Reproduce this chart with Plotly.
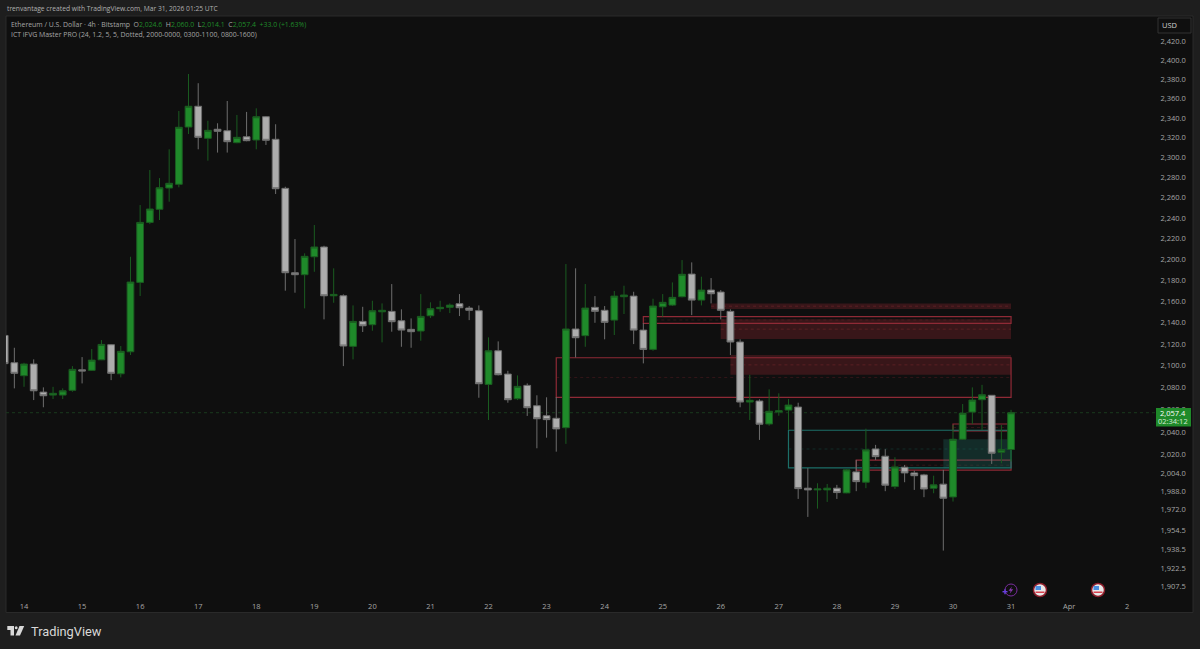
import pandas as pd
import plotly.graph_objects as go

# 4h candles, ETH/USD Bitstamp
times = pd.date_range("2026-03-13 16:00", periods=105, freq="4h")

opens = [
    2128, 2102.8, 2090.9, 2101.6, 2076, 2073.3, 2073.3, 2077.6, 2096.3, 2095.8,
    2105.5, 2119.4, 2092.7, 2112.9, 2177.9, 2235.7, 2248.5, 2269.5, 2273.2, 2330.8,
    2352, 2319.3, 2328.5, 2327, 2314.9, 2320.9, 2317.6, 2341.3, 2318.3, 2269.2,
    2187.1, 2185.2, 2202.4, 2211.8, 2165.2, 2165.2, 2117.9, 2141.1, 2138, 2150.1,
    2150.5, 2141.7, 2133.7, 2132.1, 2146.4, 2153, 2154.3, 2157.7, 2153.6, 2151.1,
    2083, 2113.8, 2092.4, 2070, 2082.1, 2063.7, 2054.7, 2052.4, 2044, 2134,
    2127.8, 2154.3, 2151.5, 2142.3, 2164.3, 2164.9, 2133, 2115.1, 2154.8, 2156.4,
    2164.3, 2185.8, 2161.1, 2170.6, 2168.7, 2150.5, 2121.9, 2067, 2067.9, 2047.3,
    2058, 2059.8, 2062.5, 1990.7, 1989.2, 1989.2, 1990.7, 1986.6, 2004.9, 1995.9,
    2025.1, 2018.7, 1992.1, 2009, 2004, 2002.3, 1990.7, 1994.2, 1983.1, 2033.7,
    2058, 2069.1, 2073.1, 2022.2, 2024.6,
]
highs = [
    2129, 2116.6, 2102.8, 2105.9, 2080.3, 2080.8, 2079.4, 2099.7, 2108, 2115.4,
    2123.7, 2120, 2118.2, 2202.4, 2252.7, 2287.4, 2279.4, 2308.2, 2347.2, 2385.4,
    2375.8, 2337.2, 2334.6, 2357.4, 2343.1, 2346.2, 2349.9, 2342, 2333.6, 2270.8,
    2219.5, 2205.7, 2233.1, 2213, 2191.3, 2166.5, 2156.1, 2154.8, 2160.5, 2158,
    2176.3, 2152.4, 2143.9, 2166.8, 2159, 2160.5, 2158, 2166.8, 2155.5, 2156.1,
    2126.2, 2122.5, 2095.4, 2091.2, 2083.9, 2073.1, 2071.3, 2071.5, 2195.4, 2191.3,
    2176.3, 2164.9, 2155.5, 2169.7, 2174.7, 2169, 2139.5, 2162.4, 2166.8, 2177.9,
    2199.2, 2197, 2183.3, 2182, 2170.6, 2152.4, 2124.4, 2091.8, 2069.5, 2078.5,
    2074.9, 2069.7, 2066.4, 2008.2, 1995, 1994.4, 1993.6, 2007.3, 2015.4, 2043.1,
    2028.7, 2024.9, 2017.8, 2011, 2006, 2003.2, 2001.6, 2006.7, 2046.4, 2065.2,
    2080.3, 2082.6, 2073.3, 2046.4, 2060,
]
lows = [
    2102, 2079.4, 2080.8, 2068.8, 2062.3, 2069.7, 2069.7, 2076.3, 2083.9, 2095.2,
    2105.2, 2086.9, 2089.4, 2109.9, 2165, 2234, 2238, 2256, 2270.2, 2323.7,
    2308.2, 2296.8, 2304.9, 2304.9, 2314.3, 2316.3, 2308.2, 2312.6, 2263.6, 2170,
    2168.1, 2153.3, 2188, 2143, 2158.6, 2099.7, 2105.9, 2131.2, 2132.4, 2121.6,
    2131.5, 2117.5, 2116.6, 2123.1, 2144.2, 2150.1, 2148.9, 2146.1, 2142.3, 2070.9,
    2050.9, 2091.2, 2066.4, 2068.8, 2054.5, 2025.7, 2035.1, 2022.7, 2029.6, 2107.7,
    2117.5, 2139.8, 2124.4, 2128.4, 2148, 2120, 2102.2, 2113.8, 2145.5, 2155.5,
    2163.7, 2147, 2156.1, 2158, 2143, 2109.9, 2062.3, 2050.9, 2033.1, 2045.8,
    2054.7, 2042, 1981.4, 1965.9, 1973, 1978.8, 1981.4, 1986.3, 1988.1, 1990.7,
    2015.4, 1988.1, 1990.1, 1995.9, 1989.2, 1982.9, 1986.3, 1937.2, 1979.1, 2033,
    2047.3, 2042, 2011.9, 2012.5, 2014.1,
]
closes = [
    2102, 2093.1, 2101.6, 2077.2, 2072.7, 2074.9, 2077.2, 2096.7, 2095.2, 2105.2,
    2119.7, 2093.1, 2113.3, 2178.2, 2235.7, 2248.8, 2269.8, 2274.2, 2330.5, 2352,
    2320.3, 2327.4, 2326.4, 2315.9, 2320.3, 2316.9, 2341.3, 2317.3, 2268.8, 2187.1,
    2185.2, 2202.8, 2211.8, 2165.2, 2166.5, 2118.2, 2141.1, 2137, 2151.1, 2151.5,
    2140.8, 2133, 2131.5, 2145.8, 2153, 2154.3, 2156.4, 2153.9, 2151.5, 2083.6,
    2113.8, 2091.8, 2069.1, 2081.2, 2061.9, 2052, 2051.2, 2042.9, 2134, 2125.9,
    2153.6, 2150.5, 2140.2, 2164.9, 2165.9, 2133, 2115.1, 2155.5, 2159, 2163.7,
    2185.6, 2161.1, 2170.6, 2167.1, 2151.5, 2121.9, 2067, 2068.6, 2047.1, 2058.7,
    2059.2, 2064.3, 1990.3, 1989.2, 1990, 1990.7, 1986.9, 2006.7, 1996.4, 2024.3,
    2018.3, 1993.3, 2009.3, 2004, 2001.6, 1990, 1993.6, 1982, 2033.7, 2056.9,
    2068.8, 2073.6, 2021.3, 2024.5, 2057.4,
]

tick_dates = [
    "2026-03-14", "2026-03-15", "2026-03-16", "2026-03-17", "2026-03-18", "2026-03-19",
    "2026-03-20", "2026-03-21", "2026-03-22", "2026-03-23", "2026-03-24", "2026-03-25",
    "2026-03-26", "2026-03-27", "2026-03-28", "2026-03-29", "2026-03-30", "2026-03-31",
    "2026-04-01", "2026-04-02",
]
tick_days = ["14", "15", "16", "17", "18", "19", "20", "21", "22", "23", "24", "25",
             "26", "27", "28", "29", "30", "31", "Apr", "2"]
price_ticks = [2420, 2400, 2380, 2360, 2340, 2320, 2300, 2280, 2260, 2240, 2220, 2200,
               2180, 2160, 2140, 2120, 2100, 2080, 2060, 2040, 2020, 2004, 1988, 1972,
               1954.5, 1938.5, 1922.5, 1907.5]

# imbalance zones from the indicator
zone_end = "2026-03-31 00:00"
red_fill_starts = ["2026-03-25 20:00", "2026-03-26 00:00", "2026-03-26 04:00"]
red_fill_tops = [2158, 2143, 2109.9]
red_fill_bottoms = [2152.7, 2124.7, 2091.8]

red_box_starts = ["2026-03-24 16:00", "2026-03-23 04:00", "2026-03-28 08:00", "2026-03-30 00:00"]
red_box_tops = [2145.5, 2107.4, 2015.2, 2047.3]
red_box_bottoms = [2139.3, 2071.3, 2006.4, 2041.1]

teal_box_start = "2026-03-27 04:00"
teal_box_top = 2041.7
teal_box_bottom = 2008.4
teal_fill_start = "2026-03-29 20:00"
teal_fill_top = 2033.7
teal_fill_bottom = 2008.2

last_price = 2057.4

# plot area in page pixels
W, H = 1200, 649
L, R, T, B = 6, 1155, 16, 596


def xp(px):
    return (px - L) / (R - L)


def yp(py):
    return (B - py) / (B - T)


def paper_shape(kind, x0, y0, x1, y1, **kw):
    return dict(type=kind, xref="paper", yref="paper", x0=xp(x0), x1=xp(x1), y0=yp(y0), y1=yp(y1), **kw)


def paper_path(points, **kw):
    p = "M" + " L".join(f"{xp(a):.5f},{yp(b):.5f}" for a, b in points) + " Z"
    return dict(type="path", xref="paper", yref="paper", path=p, **kw)


def label(text, x, y, size=6.9, color="#a6a6a6", anchor="left", family="Open Sans", **kw):
    return dict(text=text, xref="paper", yref="paper", x=xp(x), y=yp(y), xanchor=anchor, yanchor="middle",
                showarrow=False, font=dict(family=family, size=size, color=color), **kw)


fig = go.Figure(
    go.Candlestick(
        x=times,
        open=opens,
        high=highs,
        low=lows,
        close=closes,
        increasing=dict(line=dict(color="#1a5c20", width=1), fillcolor="#1f8a2a"),
        decreasing=dict(line=dict(color="#6e6e6e", width=1), fillcolor="#adadad"),
        whiskerwidth=0,
    )
)

shapes = [
    paper_shape("rect", 6, 16, 1193, 612.5, fillcolor="#0f0f0f", line=dict(color="#2a2a2a", width=1), layer="below"),
    # current price line
    dict(type="line", xref="paper", x0=0, x1=1, yref="y", y0=last_price, y1=last_price,
         line=dict(color="#1a3a1e", width=1, dash="dot"), layer="below"),
]

for s, top, bot in zip(red_fill_starts, red_fill_tops, red_fill_bottoms):
    shapes.append(dict(type="rect", x0=s, x1=zone_end, y0=bot, y1=top, xref="x", yref="y",
                       fillcolor="rgba(190,45,60,0.24)", line=dict(width=0), layer="below"))
    mid = (top + bot) / 2
    shapes.append(dict(type="line", x0=s, x1=zone_end, y0=mid, y1=mid, xref="x", yref="y",
                       line=dict(color="rgba(190,60,70,0.25)", width=1, dash="dot"), layer="below"))

for s, top, bot in zip(red_box_starts, red_box_tops, red_box_bottoms):
    shapes.append(dict(type="rect", x0=s, x1=zone_end, y0=bot, y1=top, xref="x", yref="y",
                       fillcolor="rgba(0,0,0,0)", line=dict(color="#8f2a36", width=1.2), layer="below"))
    mid = (top + bot) / 2
    shapes.append(dict(type="line", x0=s, x1=zone_end, y0=mid, y1=mid, xref="x", yref="y",
                       line=dict(color="rgba(138,39,51,0.3)", width=1, dash="dot"), layer="below"))

shapes.append(dict(type="rect", x0=teal_fill_start, x1=zone_end, y0=teal_fill_bottom, y1=teal_fill_top,
                   xref="x", yref="y", fillcolor="rgba(30,130,120,0.25)", line=dict(width=0), layer="below"))
shapes.append(dict(type="rect", x0=teal_box_start, x1=zone_end, y0=teal_box_bottom, y1=teal_box_top,
                   xref="x", yref="y", fillcolor="rgba(0,0,0,0)", line=dict(color="#1c6f68", width=1.2), layer="below"))
teal_mid = (teal_box_top + teal_box_bottom) / 2
shapes.append(dict(type="line", x0=teal_box_start, x1=zone_end, y0=teal_mid, y1=teal_mid, xref="x", yref="y",
                   line=dict(color="rgba(28,111,104,0.3)", width=1, dash="dot"), layer="below"))

# last price tag and USD button
shapes.append(paper_shape("rect", 1156, 408, 1191, 426.5, fillcolor="#1f8a2a", line=dict(width=0)))
shapes.append(paper_shape("rect", 1158, 18, 1191, 33, fillcolor="#0f0f0f", line=dict(color="#333333", width=1)))

# TradingView logo
logo = "#d8d8d8"
shapes.append(paper_path([(7.3, 626), (14, 626), (14, 635.5), (10.5, 635.5), (10.5, 630), (7.3, 630)],
                         fillcolor=logo, line=dict(width=0)))
shapes.append(paper_shape("circle", 14.8, 626.2, 17.6, 629.2, fillcolor=logo, line=dict(width=0)))
shapes.append(paper_path([(19.5, 626), (24.2, 626), (20, 635.5), (15.5, 635.5)], fillcolor=logo, line=dict(width=0)))

# event markers at the bottom
shapes.append(paper_shape("circle", 1005, 584, 1017, 596, fillcolor="#0f0f0f", line=dict(color="#7a2e9e", width=1)))
shapes.append(paper_path([(1012, 586.5), (1008.5, 590.8), (1010.7, 590.8), (1009.7, 593.8), (1013.2, 589.2), (1011, 589.2)],
                         fillcolor="#8a3ab0", line=dict(width=0)))
shapes.append(paper_shape("rect", 1002.5, 591, 1007.5, 592.4, fillcolor="#6a3fe0", line=dict(width=0)))
shapes.append(paper_shape("rect", 1004.3, 589.2, 1005.7, 594.2, fillcolor="#6a3fe0", line=dict(width=0)))
for cx in (1040, 1098):
    shapes.append(paper_shape("circle", cx - 6.5, 583.5, cx + 6.5, 596.5, fillcolor="#e8e8e8", line=dict(color="#8c1d2a", width=1.5)))
    shapes.append(paper_shape("rect", cx - 4.5, 586, cx + 1, 590, fillcolor="#4a8fe0", line=dict(width=0)))
    shapes.append(paper_shape("rect", cx - 4.5, 591.5, cx + 4.5, 593, fillcolor="#d9414f", line=dict(width=0)))

green = "#1f8a2a"
legend_line = (
    "Ethereum / U.S. Dollar · 4h · Bitstamp&nbsp;&nbsp;"
    f"O<span style='color:{green}'>2,024.6</span>&nbsp;&nbsp;"
    f"H<span style='color:{green}'>2,060.0</span>&nbsp;&nbsp;"
    f"L<span style='color:{green}'>2,014.1</span>&nbsp;&nbsp;"
    f"C<span style='color:{green}'>2,057.4</span>&nbsp;&nbsp;"
    f"<span style='color:{green}'>+33.0 (+1.63%)</span>"
)

annotations = [
    label("trenvantage created with TradingView.com, Mar 31, 2026 01:25 UTC", 5, 8.5, size=6.7, color="#b0b0b0"),
    label(legend_line, 9, 24.5),
    label("ICT iFVG Master PRO (24, 1.2, 5, 5, Dotted, 2000-0000, 0300-1100, 0800-1600)", 9, 34.5),
    label("USD", 1169, 25.5, size=7.5, color="#d0d0d0", anchor="center"),
    label("2,057.4", 1173, 412.5, size=7.5, color="#ffffff", anchor="center"),
    label("02:34:12", 1173, 421, size=7.5, color="#d8ecd8", anchor="center"),
    label("TradingView", 28.5, 631, size=12.8, color="#d8d8d8", family="Roboto"),
]

fig.update_layout(
    width=W,
    height=H,
    margin=dict(l=L, r=W - R, t=T, b=H - B, pad=0),
    paper_bgcolor="#1e1e1e",
    plot_bgcolor="rgba(0,0,0,0)",
    showlegend=False,
    boxgap=0,
    shapes=shapes,
    annotations=annotations,
    font=dict(family="Open Sans", size=7.5, color="#a6a6a6"),
    xaxis=dict(
        type="date",
        range=["2026-03-13 16:33", "2026-04-02 11:30"],
        tickmode="array",
        tickvals=tick_dates,
        ticktext=tick_days,
        showgrid=False,
        zeroline=False,
        showline=False,
        ticks="outside",
        ticklen=3,
        tickcolor="rgba(0,0,0,0)",
        rangeslider=dict(visible=False),
    ),
    yaxis=dict(
        type="log",
        side="right",
        range=[3.27856, 3.388556],
        tickmode="array",
        tickvals=price_ticks,
        ticktext=[f"{v:,.1f}" for v in price_ticks],
        showgrid=False,
        zeroline=False,
        showline=False,
        ticks="outside",
        ticklen=3,
        tickcolor="rgba(0,0,0,0)",
    ),
)

fig.write_html("out.html", config=dict(displayModeBar=False), post_script="document.body.style.margin='0';")
